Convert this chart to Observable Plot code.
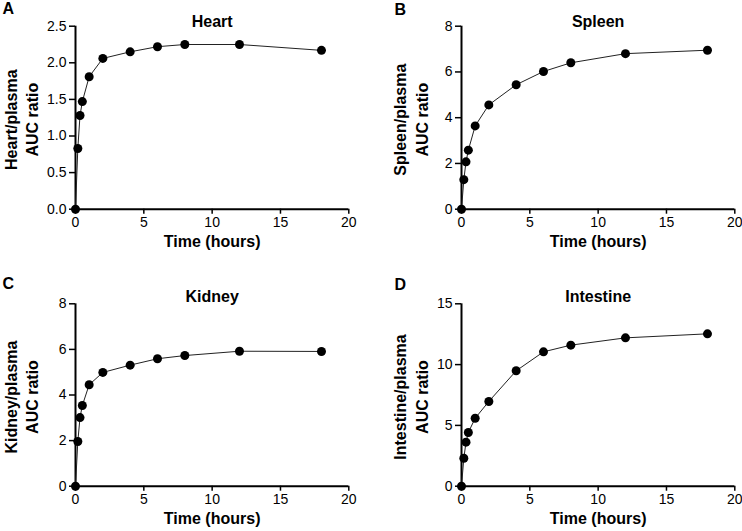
<!DOCTYPE html>
<html><head><meta charset="utf-8">
<script src="https://cdn.jsdelivr.net/npm/d3@7"></script>
<script src="https://cdn.jsdelivr.net/npm/@observablehq/plot@0.6"></script>
<style>
body{margin:0;background:#fff;}
#chart{position:relative;width:742px;height:531px;}
#chart svg{position:absolute;}
</style></head><body><div id="chart"></div>
<script>
const times = [0, 0.17, 0.33, 0.5, 1, 2, 4, 6, 8, 12, 18];
const heart = [0, 0.83, 1.28, 1.47, 1.81, 2.06, 2.15, 2.22, 2.25, 2.25, 2.17];
const spleen = [0, 1.29, 2.07, 2.58, 3.64, 4.56, 5.44, 6.02, 6.40, 6.80, 6.95];
const kidney = [0, 1.96, 3.01, 3.54, 4.45, 4.99, 5.31, 5.59, 5.73, 5.92, 5.91];
const intestine = [0, 2.30, 3.62, 4.42, 5.59, 6.97, 9.49, 11.05, 11.60, 12.20, 12.53];
const xTicks = [0, 5, 10, 15, 20];
const heartTicks = [0, 0.5, 1, 1.5, 2, 2.5];
const spleenTicks = [0, 2, 4, 6, 8];
const kidneyTicks = [0, 2, 4, 6, 8];
const intestineTicks = [0, 5, 10, 15];
const titles = ["Heart", "Spleen", "Kidney", "Intestine"];
const letters = ["A", "B", "C", "D"];
const yLabels = ["Heart/plasma\nAUC ratio", "Spleen/plasma\nAUC ratio", "Kidney/plasma\nAUC ratio", "Intestine/plasma\nAUC ratio"];
const xLabel = "Time (hours)";

const panels = [
  {values: heart, ticks: heartTicks, domain: [0, 2.5], fmt: d3.format(".1f"), left: 0, top: 0, h: 265, ml: 75, mr: 22.7, mt: 25.7, mb: 56.3, ylabDx: -55, titleDy: -4.2, lDx: -73, lDy: -23.7},
  {values: spleen, ticks: spleenTicks, domain: [0, 8], fmt: d3.format("d"), left: 371, top: 0, h: 265, ml: 90, mr: 7.7, mt: 25.7, mb: 56.3, ylabDx: -51.5, titleDy: -4.7, lDx: -67, lDy: -22.7},
  {values: kidney, ticks: kidneyTicks, domain: [0, 8], fmt: d3.format("d"), left: 0, top: 265, h: 266, ml: 75, mr: 22.7, mt: 38.3, mb: 45.3, ylabDx: -55, titleDy: -7.3, lDx: -73, lDy: -26.3},
  {values: intestine, ticks: intestineTicks, domain: [0, 15], fmt: d3.format("d"), left: 371, top: 265, h: 266, ml: 90, mr: 7.7, mt: 38.3, mb: 45.3, ylabDx: -51.5, titleDy: -7.3, lDx: -67, lDy: -25.3}
];

const container = document.getElementById("chart");
panels.forEach((p, i) => {
  const rows = times.map((t, j) => ({t, v: p.values[j]}));
  const svg = Plot.plot({
    width: 371, height: p.h,
    marginLeft: p.ml, marginRight: p.mr, marginTop: p.mt, marginBottom: p.mb,
    style: {fontFamily: "'Liberation Sans', Arial, sans-serif", fontSize: "14px", color: "#000", background: "transparent", overflow: "visible"},
    x: {domain: [0, 20]},
    y: {domain: p.domain},
    marks: [
      Plot.axisX({ticks: xTicks, tickSize: 5, tickPadding: 3, label: null, fontSize: 14, strokeWidth: 1.5}),
      Plot.axisY({ticks: p.ticks, tickSize: 6, tickPadding: 3, tickFormat: p.fmt, label: null, fontSize: 14, strokeWidth: 1.5}),
      Plot.ruleY([0], {strokeWidth: 2, stroke: "#000"}),
      Plot.ruleX([0], {strokeWidth: 2, stroke: "#000"}),
      Plot.line(rows, {x: "t", y: "v", stroke: "#222", strokeWidth: 1}),
      Plot.dot(rows, {x: "t", y: "v", r: 4.5, fill: "#000", stroke: "none"}),
      Plot.text([titles[i]], {text: d => d, frameAnchor: "top", dy: p.titleDy, lineAnchor: "middle", fontWeight: "bold", fontSize: 16}),
      Plot.text([xLabel], {text: d => d, frameAnchor: "bottom", dy: 33, lineAnchor: "middle", fontWeight: "bold", fontSize: 16}),
      Plot.text([yLabels[i]], {text: d => d, frameAnchor: "left", rotate: -90, dx: p.ylabDx, dy: 2, textAnchor: "middle", lineAnchor: "middle", lineHeight: 1.35, fontWeight: "bold", fontSize: 16}),
      Plot.text([letters[i]], {text: d => d, frameAnchor: "top-left", dx: p.lDx, dy: p.lDy, textAnchor: "start", lineAnchor: "top", fontWeight: "bold", fontSize: 16})
    ]
  });
  svg.style.left = p.left + "px";
  svg.style.top = p.top + "px";
  container.appendChild(svg);
});
</script>
</body></html>
